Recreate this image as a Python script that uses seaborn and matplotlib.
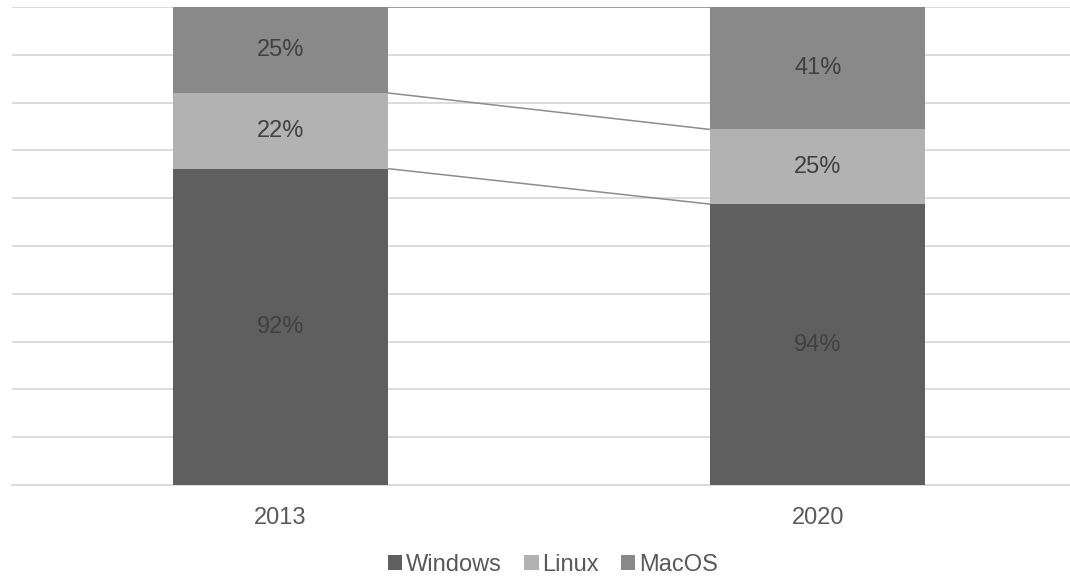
import matplotlib
matplotlib.use("Agg")
import matplotlib.pyplot as plt
import seaborn as sns
import pandas as pd
import numpy as np
from matplotlib.patches import Patch

years = ["2013", "2020"]
series = ["Windows", "Linux", "MacOS"]
windows = [92, 94]
linux = [22, 25]
macos = [25, 41]
colors = {"Windows": "#5f5f5f", "Linux": "#b2b2b2", "MacOS": "#898989"}

sns.set_theme(style="white")
plt.rcParams["font.family"] = ["Liberation Sans", "DejaVu Sans"]

vals = np.array([windows, linux, macos], dtype=float)
shares = vals / vals.sum(axis=0)
cum = np.cumsum(shares, axis=0)

fig = plt.figure(figsize=(10.70, 5.76), dpi=100)
ax = fig.add_axes([12 / 1070, 1 - 485 / 576, 1 - 12 / 1070, (485 - 7) / 576])

# stacked via overlapping cumulative bars (top layer first)
for i in range(len(series) - 1, -1, -1):
    df = pd.DataFrame({"year": years, "value": cum[i]})
    sns.barplot(data=df, x="year", y="value", color=colors[series[i]],
                width=0.4, ax=ax, saturation=1, zorder=3, linewidth=0)

# series lines between bars
hw = 0.2
for i in range(len(series)):
    ax.plot([0 + hw, 1 - hw], [cum[i][0], cum[i][1]], color="#8c8c8c",
            lw=1.1, zorder=2, solid_capstyle="butt")

# data labels
for i, s in enumerate(series):
    for j in range(len(years)):
        lo = cum[i - 1][j] if i > 0 else 0
        ax.text(j, (lo + cum[i][j]) / 2, f"{int(vals[i][j])}%", ha="center",
                va="center", fontsize=17, color="#404040", zorder=4)

ax.set_ylim(0, 1)
ax.set_xlim(-0.4995, (1070 - 280.5) / 537.5)
ax.set_yticks(np.linspace(0, 1, 11))
ax.set_yticklabels([])
ax.yaxis.grid(True, color="#d9d9d9", lw=1.3, zorder=0)
ax.set_axisbelow(True)
ax.tick_params(axis="both", length=0)
ax.tick_params(axis="x", pad=16, labelsize=17, labelcolor="#595959")
ax.set_xlabel("")
ax.set_ylabel("")
for sp in ["top", "right", "left"]:
    ax.spines[sp].set_visible(False)
ax.spines["bottom"].set_color("#d9d9d9")
ax.spines["bottom"].set_linewidth(1.3)

handles = [Patch(facecolor=colors[s], edgecolor="none", label=s) for s in series]
fig.legend(handles=handles, loc="center", bbox_to_anchor=(553 / 1070, 1 - 565 / 576),
           ncol=3, frameon=False, fontsize=17, handlelength=0.6, handleheight=0.6,
           handletextpad=0.15, columnspacing=0.95, labelcolor="#595959",
           borderpad=0, borderaxespad=0)

fig.savefig("out.png", dpi=100)
